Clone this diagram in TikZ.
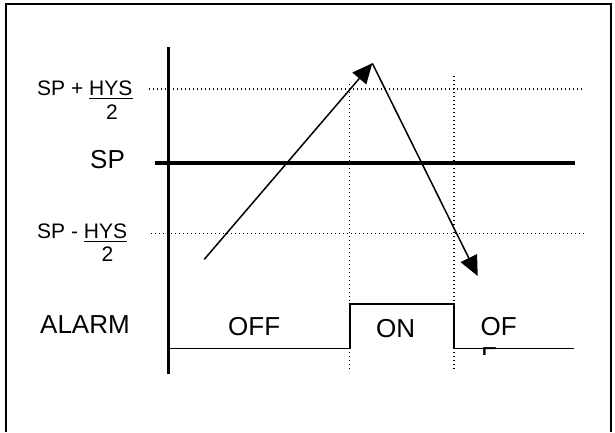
\documentclass[tikz,border=0pt]{standalone}
\usepackage{fontspec}
\setmainfont{Liberation Sans}
\usetikzlibrary{arrows.meta}
\begin{document}
\begin{tikzpicture}[x=1pt,y=-1pt,
  lbl/.style={inner sep=0pt, anchor=base west, font=\fontsize{21}{25}\selectfont},
  big/.style={inner sep=0pt, anchor=base west, font=\fontsize{26}{31}\selectfont},
  dotline/.style={line width=1.2pt, dash pattern=on 1.3pt off 2.7pt},
  axisline/.style={line width=3.5pt},
  sig/.style={line width=1.3pt},
  uline/.style={line width=1.5pt},
  trend/.style={line width=1.5pt, -{Triangle[length=20pt,width=18pt]}},
]
\useasboundingbox (0,0) rectangle (615,432);
% frame
\draw[line width=2pt] (6,432) -- (6,4) -- (610.5,4) -- (610.5,432);

% dotted levels
\coordinate (hiL) at (149,89);   \coordinate (hiR) at (583,89);
\coordinate (loL) at (151,233.3); \coordinate (loR) at (585,233.3);
\draw[dotline] (hiL) -- (hiR);
\draw[dotline] (loL) -- (loR);
% dotted verticals
\coordinate (v1T) at (349.5,84); \coordinate (v1B) at (349.5,372);
\coordinate (v2T) at (454,76);   \coordinate (v2B) at (454,370);
\draw[dotline] (v1T) -- (v1B);
\draw[dotline] (v2T) -- (v2B);

% axis
\coordinate (axT) at (168.7,47); \coordinate (axB) at (168.7,374);
\draw[axisline] (axT) -- (axB);
% SP line
\coordinate (spL) at (155,163.3); \coordinate (spR) at (575,163.3);
\draw[line width=4pt] (spL) -- (spR);

% alarm signal
\coordinate (a0) at (168,348.3);
\coordinate (a1) at (350,348.3);
\coordinate (a2) at (350,304);
\coordinate (a3) at (454,304);
\coordinate (a4) at (454,348.3);
\coordinate (a5) at (574,348.3);
\draw[sig] (a0) -- (a1) -- (a2) -- (a3) -- (a4) -- (a5);

% trend arrows
\coordinate (t0) at (204.3,259.3);
\coordinate (t1) at (372.3,63.3);
\coordinate (t2) at (477.7,276);
\draw[trend] (t0) -- (t1);
\draw[trend] (t1) -- (t2);

% labels
\node[lbl] (hiTxt) at (37,95.3) {SP + HYS};
\draw[uline] (89,98.3) -- (132.5,98.3);
\node[lbl] (hiTwo) at (106,119.3) {2};
\node[big] (spTxt) at (90,168.7) {SP};
\node[lbl] (loTxt) at (37,238.3) {SP - HYS};
\draw[uline] (84,241.3) -- (127.3,241.3);
\node[lbl] (loTwo) at (101.5,261.7) {2};

\node[big] (alarm) at (40,333) {ALARM};
\node[big] (off1) at (228,335) {OFF};
\node[big] (on) at (376,337) {ON};
\node[big] (off2) at (480.5,335) {OF};
\begin{scope}
\clip (470,345) rectangle (510,354.5);
\node[big] (offF) at (481,365.6) {F};
\end{scope}
\end{tikzpicture}
\end{document}
